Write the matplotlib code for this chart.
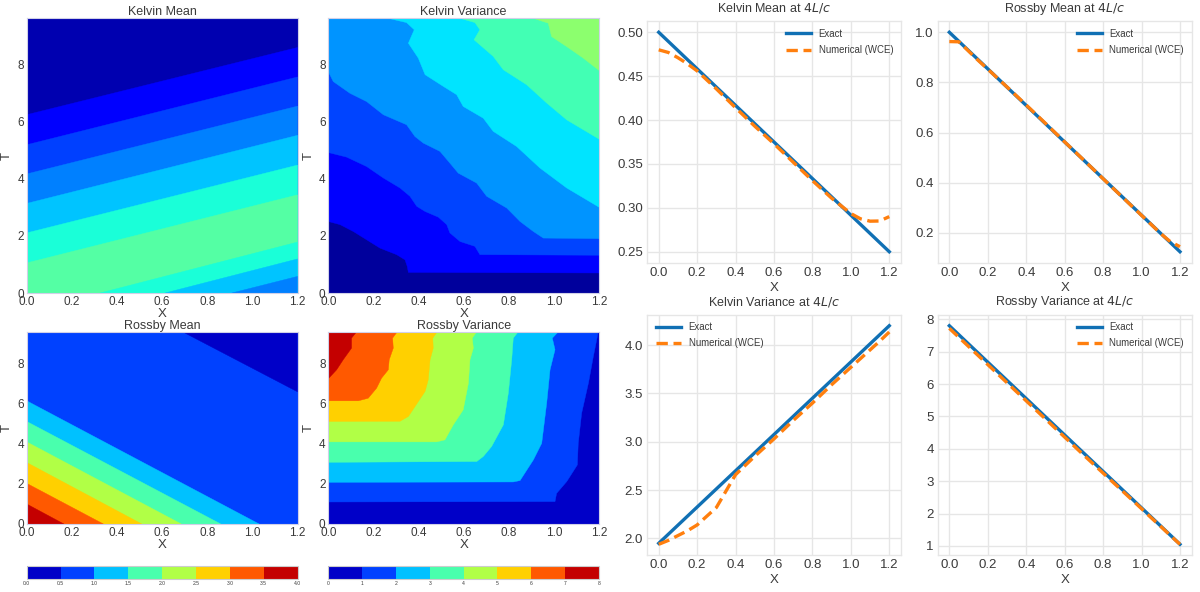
import matplotlib
matplotlib.use("Agg")
import matplotlib.pyplot as plt
import numpy as np
from matplotlib.cm import ScalarMappable
from matplotlib.colors import BoundaryNorm

plt.rcParams['font.family'] = ['Liberation Sans', 'DejaVu Sans']
TEXT = '#3a3a3a'
GRID = '#e6e6e6'
EDGE = '#d0d0e8'

# ---- band boundaries (x, T) ----
kelvin_mean_colors = ['#0000b0', '#0000ff', '#0040ff', '#0080ff', '#00c4ff', '#1affd8', '#54ffa4']
kelvin_mean_x = [0.0, 1.2]
kelvin_mean_upper_left = [6.23, 5.18, 4.16, 3.13, 2.10, 1.05]
kelvin_mean_upper_right = [8.58, 7.55, 6.53, 5.51, 4.47, 3.43]
kelvin_mean_lower_x0 = [0.325, 0.613, 0.909]
kelvin_mean_lower_right = [1.78, 1.19, 0.58]

kelvin_var_colors = ['#00009c', '#0000ff', '#0044ff', '#0094ff', '#00e4ff', '#42ffb4', '#8cff6e']
kv1_x = [0, .052, .111, .17, .229, .303, .34, .35, .355, 1.2]
kv1_t = [2.50, 2.39, 2.15, 1.86, 1.57, 1.34, 1.16, .93, .72, .70]
kv2_x = [0, .081, .17, .244, .318, .362, .392, .429, .488, .525, .539, .584, .65, .672, 1.2]
kv2_t = [4.91, 4.75, 4.42, 4.02, 3.67, 3.38, 3.03, 2.85, 2.65, 2.39, 2.10, 1.80, 1.63, 1.34, 1.32]
kv3_x = [0, .022, .096, .17, .244, .347, .384, .421, .495, .539, .576, .658, .702, .791, .85, .909, .953, 1.2]
kv3_t = [7.74, 7.39, 6.98, 6.69, 6.23, 5.88, 5.47, 5.24, 4.95, 4.54, 4.19, 3.84, 3.38, 2.97, 2.50, 2.15, 1.92, 1.90]
kv4_x = [.266, .347, .381, .355, .399, .429, .51, .569, .598, .687, .731, .835, .938, 1.057, 1.2]
kv4_t = [9.6, 9.45, 9.2, 8.73, 8.21, 7.63, 7.22, 6.93, 6.52, 6.11, 5.65, 5.12, 4.37, 3.67, 3.0]
kv5_x = [.584, .65, .672, .646, .731, .776, .879, .968, 1.057, 1.2]
kv5_t = [9.6, 9.45, 9.2, 8.85, 8.27, 7.8, 7.28, 6.64, 6.05, 5.38]
kv6_x = [.909, .975, .99, 1.057, 1.13, 1.2]
kv6_t = [9.6, 9.43, 8.96, 8.61, 8.21, 7.78]

rossby_mean_levels = [0, .5, 1, 1.5, 2, 2.5, 3, 3.5, 4]
rm_left_t = [1.0, 2.03, 3.07, 4.1, 5.12, 6.15]
rm_bottom_x = [.165, .34, .51, .685, .86, 1.03]
rm_top_line_x = [.69, 1.2]
rm_top_line_t = [9.6, 6.6]

rossby_var_levels = [0, 1, 2, 3, 4, 5, 6, 7, 8]
rv1_x = [1.197, 1.175, 1.153, 1.123, 1.108, 1.104, 1.057, 1.012, 1.005, 0]
rv1_t = [9.6, 8.37, 7.03, 5.53, 4.03, 2.95, 2.12, 1.53, 1.12, 1.1]
rv2_x = [1.02, .993, 1.005, .983, .968, .946, .909, .85, .82, 0]
rv2_t = [9.6, 9.28, 8.7, 7.7, 6.03, 4.03, 3.2, 2.17, 2.1, 2.08]
rv3_x = [.842, .82, .813, .798, .776, .724, .687, .658, 0]
rv3_t = [9.6, 9.28, 8.2, 6.53, 4.95, 3.87, 3.37, 3.12, 3.08]
rv4_x = [.658, .638, .643, .628, .621, .598, .554, .517, .48, 0]
rv4_t = [9.6, 9.28, 8.78, 8.2, 7.03, 5.7, 4.95, 4.2, 4.1, 4.1]
rv5_x = [.483, .463, .465, .451, .443, .429, .355, .318, 0]
rv5_t = [9.6, 9.28, 8.78, 8.2, 7.2, 6.62, 5.37, 5.13, 5.12]
rv6_x = [.306, .285, .288, .27, .266, .236, .214, .177, .133, 0]
rv6_t = [9.6, 9.28, 8.78, 8.2, 7.7, 7.28, 6.78, 6.28, 6.15, 6.15]
rv7_x = [.126, .103, .103, .066, .037, 0]
rv7_t = [9.6, 9.28, 8.78, 8.2, 7.7, 7.25]

# ---- profiles at 4L/c ----
x_profile = [0, .05, .1, .15, .2, .3, .4, .5, .6, .7, .8, .9, 1.0, 1.05, 1.1, 1.15, 1.2]
x_ends = [0, 1.2]
kelvin_mean_exact = [.50, .25]
kelvin_mean_num = [.480, .477, .471, .464, .456, .4355, .414, .393, .373, .352, .331, .311, .2935, .2875, .2848, .2850, .290]
rossby_mean_exact = [1.0, .125]
rossby_mean_num = [.963, .962, .925, .888, .853, .782, .710, .637, .563, .490, .416, .343, .270, .234, .197, .165, .145]
kelvin_var_exact = [1.95, 4.20]
kelvin_var_num = [1.94, 1.98, 2.03, 2.08, 2.14, 2.31, 2.66, 2.85, 3.03, 3.22, 3.40, 3.59, 3.77, 3.86, 3.95, 4.04, 4.135]
kelvin_var_num[5] = 2.32
kelvin_var_num[6] = 2.49 + .17
rossby_var_exact = [7.80, 1.05]
rossby_var_num = [7.72, 7.44, 7.16, 6.88, 6.60, 6.04, 5.48, 4.92, 4.36, 3.80, 3.25, 2.70, 2.15, 1.87, 1.60, 1.32, 1.05]

W, H = 1200, 592
fig = plt.figure(figsize=(W / 100, H / 100), dpi=100, facecolor='white')


def box(l, r, t, b):
    return fig.add_axes([l / W, 1 - b / H, (r - l) / W, (b - t) / H])


def paint(ax, xs, ts, color, closing):
    ax.fill(list(xs) + [c[0] for c in closing], list(ts) + [c[1] for c in closing],
            color=color, lw=0.3, zorder=2)


def contour_axes(l, r, t, b, title, bg):
    ax = box(l, r, t, b)
    ax.set_xlim(0, 1.2)
    ax.set_ylim(0, 9.6)
    ax.set_facecolor(bg)
    ax.set_xticks(np.arange(0, 1.3, .2))
    ax.set_yticks([0, 2, 4, 6, 8])
    ax.tick_params(length=0, labelsize=8.5, colors=TEXT, pad=2)
    ax.set_title(title, fontsize=9, color=TEXT, pad=2)
    ax.set_xlabel('X', fontsize=9.5, color=TEXT, labelpad=0)
    ax.set_ylabel('T', fontsize=9.5, color=TEXT, labelpad=3)
    for s in ax.spines.values():
        s.set_color(EDGE)
        s.set_linewidth(.8)
        s.set_zorder(5)
    return ax


TR = [(1.2, 9.6), (0, 9.6)]
BR = [(1.2, 0), (0, 0)]
L1, R1 = 26.7, 297.5
L2, R2 = 328.3, 599
T1, B1 = 18.3, 293
T2, B2 = 331.7, 524

# Kelvin Mean
ax = contour_axes(L1, R1, T1, B1, 'Kelvin Mean', kelvin_mean_colors[0])
for i, (a, b) in enumerate(zip(kelvin_mean_upper_left, kelvin_mean_upper_right)):
    paint(ax, kelvin_mean_x, [a, b], kelvin_mean_colors[i + 1], BR)
for i, (a, b) in enumerate(zip(kelvin_mean_lower_x0, kelvin_mean_lower_right)):
    paint(ax, [a, 1.2], [0, b], kelvin_mean_colors[5 - i], [(1.2, 0)])

# Kelvin Variance
ax = contour_axes(L2, R2, T1, B1, 'Kelvin Variance', kelvin_var_colors[0])
kv = [(kv1_x, kv1_t), (kv2_x, kv2_t), (kv3_x, kv3_t), (kv4_x, kv4_t), (kv5_x, kv5_t), (kv6_x, kv6_t)]
for i, (xs, ts) in enumerate(kv):
    paint(ax, xs, ts, kelvin_var_colors[i + 1], TR)

# Rossby Mean
cmap = plt.get_cmap('jet')
norm_m = BoundaryNorm(rossby_mean_levels, 256)
mid_m = [(a + b) / 2 for a, b in zip(rossby_mean_levels[:-1], rossby_mean_levels[1:])]
col_m = [cmap((i + .5) / 8) for i in range(8)]
ax = contour_axes(L1, R1, T2, B2, 'Rossby Mean', col_m[1])
paint(ax, rm_top_line_x, rm_top_line_t, col_m[0], [(1.2, 9.6)])
for i in range(5, -1, -1):
    paint(ax, [0, rm_bottom_x[i]], [rm_left_t[i], 0], col_m[7 - i], [(0, 0)])

# Rossby Variance
ax = contour_axes(L2, R2, T2, B2, 'Rossby Variance', col_m[0])
rv = [(rv1_x, rv1_t), (rv2_x, rv2_t), (rv3_x, rv3_t), (rv4_x, rv4_t), (rv5_x, rv5_t), (rv6_x, rv6_t), (rv7_x, rv7_t)]
for i, (xs, ts) in enumerate(rv):
    paint(ax, xs, ts, col_m[i + 1], [(0, 9.6)])


# Colorbars
def cbar(l, r, levels, fmt):
    cax = box(l, r, 565.7, 578.7)
    sm = ScalarMappable(norm=BoundaryNorm(levels, 8),
                        cmap=matplotlib.colors.ListedColormap(col_m))
    cb = fig.colorbar(sm, cax=cax, orientation='horizontal', ticks=levels, spacing='proportional')
    cb.ax.set_xticklabels([fmt % v for v in levels])
    cb.ax.tick_params(length=0, labelsize=3.6, colors=TEXT, pad=2)
    cb.outline.set_edgecolor('#cccccc')
    cb.outline.set_linewidth(.8)


cbar(L1, R1, rossby_mean_levels, '%.1f')
cbar(L2, R2, rossby_var_levels, '%d')


# Profile panels
def profile(l, r, t, b, title, exact, num, yticks, yfmt, legend_loc, legend_anchor):
    ax = box(l, r, t, b)
    ax.plot(x_ends, exact, color='#1f77b4' if False else '#1070b4', lw=2.4, label='Exact', zorder=3)
    ax.plot(x_profile, num, color='#ff7f0e', lw=2.4, ls=(0, (3.4, 1.7)), label='Numerical (WCE)', zorder=4)
    ax.set_xticks(np.arange(0, 1.3, .2))
    ax.set_yticks(yticks)
    ax.set_yticklabels([yfmt % v for v in yticks])
    ax.grid(True, color=GRID, lw=1)
    ax.set_axisbelow(True)
    ax.tick_params(length=0, labelsize=9.5, colors=TEXT, pad=3)
    ax.set_title(title, fontsize=9, color=TEXT, pad=7)
    ax.set_xlabel('X', fontsize=9.5, color=TEXT, labelpad=2)
    for s in ax.spines.values():
        s.set_color(GRID)
        s.set_linewidth(1)
    ax.legend(loc=legend_loc, bbox_to_anchor=legend_anchor, frameon=False, fontsize=6.9,
              labelcolor=TEXT, handlelength=2.6, borderaxespad=0, labelspacing=.65, handletextpad=.8)
    return ax


profile(647.2, 900.8, 21.3, 262.7, 'Kelvin Mean at $4L/c$', kelvin_mean_exact, kelvin_mean_num,
        [.25, .30, .35, .40, .45, .50], '%.2f', 'upper right', (.985, .985))
profile(937.8, 1191.5, 21.3, 262.7, 'Rossby Mean at $4L/c$', rossby_mean_exact, rossby_mean_num,
        [.2, .4, .6, .8, 1.0], '%.1f', 'upper right', (.985, .985))
profile(647.2, 900.8, 314.8, 555.2, 'Kelvin Variance at $4L/c$', kelvin_var_exact, kelvin_var_num,
        [2.0, 2.5, 3.0, 3.5, 4.0], '%.1f', 'upper left', (.02, .985))
profile(937.8, 1191.5, 314.8, 555.2, 'Rossby Variance at $4L/c$', rossby_var_exact, rossby_var_num,
        [1, 2, 3, 4, 5, 6, 7, 8], '%d', 'upper right', (.985, .985))

fig.savefig('out.png', dpi=100)
